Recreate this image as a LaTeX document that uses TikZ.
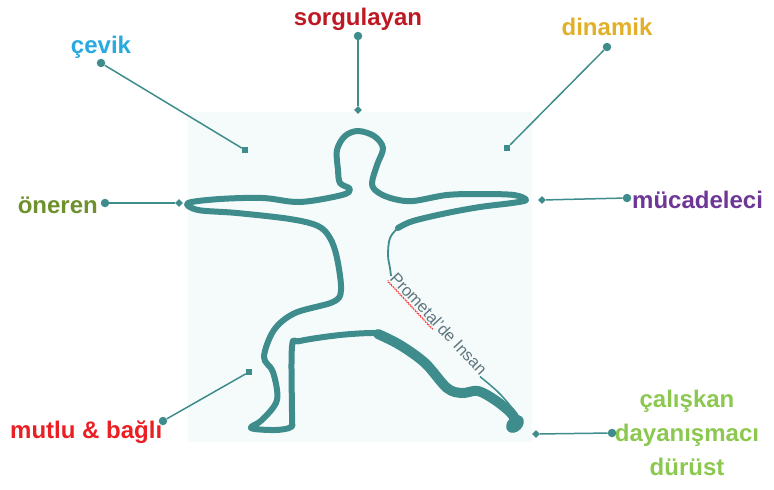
\documentclass[tikz,border=0pt]{standalone}
\usepackage{fontspec}
\setmainfont{Liberation Sans}
\usetikzlibrary{shapes.geometric,decorations.pathmorphing,calc}

\definecolor{figura}{RGB}{62,140,140}
\definecolor{fondo}{RGB}{245,250,250}
\definecolor{lema}{RGB}{95,118,128}
\definecolor{cCevik}{RGB}{40,170,225}
\definecolor{cSorgu}{RGB}{190,25,35}
\definecolor{cDinamik}{RGB}{225,175,40}
\definecolor{cMucadele}{RGB}{110,55,150}
\definecolor{cOneren}{RGB}{110,145,45}
\definecolor{cMutlu}{RGB}{235,30,35}
\definecolor{cCalis}{RGB}{140,200,80}

\tikzset{
  etiqueta/.style={font=\fontsize{24}{34}\selectfont\bfseries, inner sep=0pt},
  enlace/.style={draw=figura, line width=1.5},
  punto/.style={circle, fill=figura, inner sep=0pt, minimum size=8.5pt},
  cuadro/.style={rectangle, fill=figura, inner sep=0pt, minimum size=6pt},
  rombo/.style={diamond, fill=figura, inner sep=0pt, minimum size=8pt},
  contorno/.style={draw=figura, line width=6, line cap=round, line join=round},
}

\begin{document}
\begin{tikzpicture}[x=1pt, y=-1pt]
  \useasboundingbox (0,0) rectangle (774,490);

  % Fondo
  \fill[fondo] (188,112) rectangle (532,442);

  % Silueta: brazos, cabeza y pierna izquierda
  \draw[contorno] plot[smooth, tension=0.55] coordinates {
    (398,228) (413,221) (447,213) (480,207) (512,203) (526,200) (514,195)
    (480,194) (447,195) (413,201) (394,199) (379,193) (372,184) (377,165)
    (383,148) (374,136) (358,131) (345,136) (337,150) (338,170) (340,183)
    (350,189) (342,195) (300,202) (263,198) (220,199) (188,203) (198,210)
    (237,213) (290,219) (318,226) (330,238) (337,258) (341,290) (333,302)
    (295,313) (274,330) (264,357) (273,372) (277,400) (262,420) (251,428)
    (275,430) (291,427) (292,417) (292,347) (300,341) (340,335) (375,333)
    (385,336)};

  % Pierna derecha
  \draw[contorno, line width=10] plot[smooth, tension=0.55] coordinates {
    (378,334) (400,345) (425,363) (447,388) (462,393) (478,391) (495,400)
    (510,412) (517,422)};
  \fill[figura, rotate around={45:(515,424)}] (515,424) ellipse (10 and 7.5);

  % Costado derecho y lema
  \draw[figura, line width=1.8] plot[smooth, tension=0.6] coordinates {
    (398,228) (390,238) (388,255) (390,268) (391,276)};
  \node[rotate=-47, anchor=base west, inner xsep=0pt, inner ysep=2pt,
        text=lema, font=\fontsize{16.5}{18}\selectfont] (lema) at (389,279)
        {Prometal\char39 de Insan};
  \draw[red!80, line width=0.6, decorate,
        decoration={zigzag, segment length=2.5pt, amplitude=0.7pt}]
    (lema.south west) -- ($(lema.south west)!0.5!(lema.south east)$);
  \draw[figura, line width=1.5] (lema.base east) .. controls (500,393) .. (517,414);

  % Etiquetas
  \node[etiqueta, text=cCevik, anchor=base] (cevik) at (101,53) {çevik};
  \node[etiqueta, text=cSorgu, anchor=base] (sorgu) at (358,25) {sorgulayan};
  \node[etiqueta, text=cDinamik, anchor=base] (dinamik) at (607,35) {dinamik};
  \node[etiqueta, text=cMucadele, anchor=base west] (mucadele) at (632,208) {mücadeleci};
  \node[etiqueta, text=cOneren, anchor=base east] (oneren) at (98,213) {öneren};
  \node[etiqueta, text=cMutlu, anchor=base west] (mutlu) at (10,438) {mutlu \& bağlı};
  \node[etiqueta, text=cCalis, align=center, anchor=north] (calis) at (687,390)
    {çalışkan\\dayanışmacı\\dürüst};

  % Puntos y marcas
  \node[punto] (p1) at (101,63) {};   \node[cuadro] (m1) at (245,150) {};
  \node[punto] (p2) at (358,36) {};   \node[rombo]  (m2) at (358,110) {};
  \node[punto] (p3) at (607,47) {};   \node[cuadro] (m3) at (507,148) {};
  \node[punto] (p4) at (627,198) {};  \node[rombo]  (m4) at (542,200) {};
  \node[punto] (p5) at (105,203) {};  \node[rombo]  (m5) at (179,203) {};
  \node[punto] (p6) at (163,421) {};  \node[cuadro] (m6) at (249,372) {};
  \node[punto] (p7) at (612,433) {};  \node[rombo]  (m7) at (536,434) {};

  % Conectores
  \foreach \i in {1,...,7}
    \draw[enlace] (p\i) -- (m\i);

\end{tikzpicture}
\end{document}
